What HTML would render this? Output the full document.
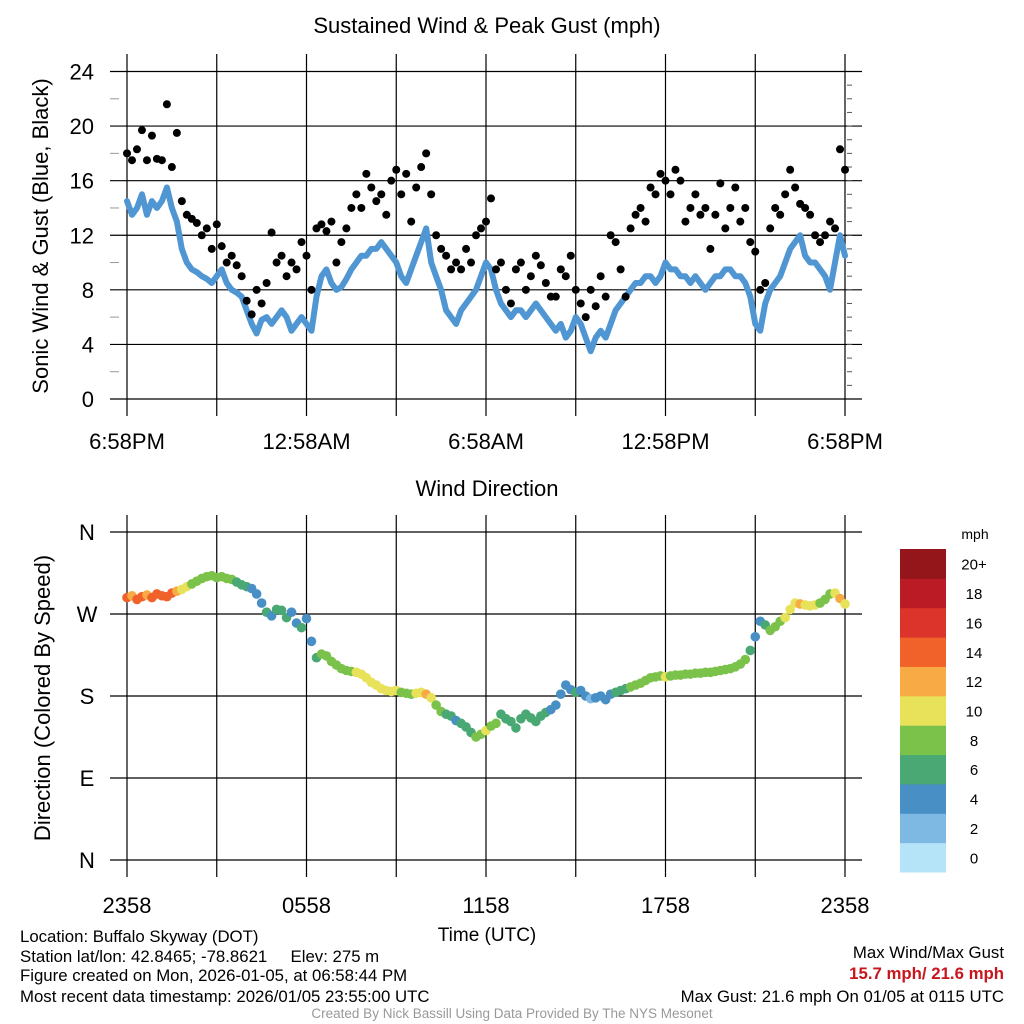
<!DOCTYPE html>
<html><head><meta charset="utf-8"><style>
body{margin:0;background:#fff;}
svg{display:block;font-family:"Liberation Sans",Arial,sans-serif;}
</style></head><body>
<svg id="chart" width="1024" height="1024" viewBox="0 0 1024 1024">
<text x="487" y="33" font-size="22" text-anchor="middle">Sustained Wind &amp; Peak Gust (mph)</text>
<text x="487" y="496" font-size="22" text-anchor="middle">Wind Direction</text>
<text transform="translate(48,236) rotate(-90)" font-size="22" text-anchor="middle">Sonic Wind &amp; Gust (Blue, Black)</text>
<text transform="translate(50,698) rotate(-90)" font-size="22" text-anchor="middle">Direction (Colored By Speed)</text>
<text x="487" y="941" font-size="19" text-anchor="middle">Time (UTC)</text>
<g id="topplot"></g>
<g id="botplot"></g>
<g id="cbar"></g>
<g font-size="16.8">
<text x="20" y="942">Location: Buffalo Skyway (DOT)</text>
<text x="20" y="962">Station lat/lon: 42.8465; -78.8621&#160;&#160;&#160;&#160;&#160;Elev: 275 m</text>
<text x="20" y="981">Figure created on Mon, 2026-01-05, at 06:58:44 PM</text>
<text x="20" y="1002">Most recent data timestamp: 2026/01/05 23:55:00 UTC</text>
</g>
<g font-size="16.8" text-anchor="end">
<text x="1004" y="958">Max Wind/Max Gust</text>
<text x="1004" y="979" fill="#c8161d" font-weight="bold">15.7 mph/ 21.6 mph</text>
<text x="1004" y="1002">Max Gust: 21.6 mph On 01/05 at 0115 UTC</text>
</g>
<text x="512" y="1018" font-size="13.5" fill="#999" text-anchor="middle">Created By Nick Bassill Using Data Provided By The NYS Mesonet</text>
</svg>
<script>
const topTicks=[0,4,8,12,16,20,24];
const topXLabels=["6:58PM","12:58AM","6:58AM","12:58PM","6:58PM"];
const botXLabels=["2358","0558","1158","1758","2358"];
const dirLabels=["N","E","S","W","N"];
const cbLabels=["0","2","4","6","8","10","12","14","16","18","20+"];
const cbColors=["#b5e3f8","#7db9e3","#488fc6","#49a874","#7bc24a","#e8e25a","#f8aa44","#f1622b","#dc342a","#bb1b25","#94161b"];
const sustained=[14.5,13.5,14,15,13.5,14.5,14,14.5,15.5,14,13,
11,10,9.5,9.3,9,8.8,8.5,9,9.5,8.5,
8,7.8,7.5,6.5,5.5,4.8,5.8,6,5.5,6,
6.5,6,5,5.5,6,5.5,5,7.5,9,9.5,
8.5,8,8.2,8.8,9.5,10,10.5,10.5,11,11,
11.5,11,10.5,10,9,8.5,9.5,10.5,11.5,12.5,
10,9,8,6.5,6,5.5,6.5,7,7.5,8,
9,10,9.5,8,7,6.5,6,6.5,6.5,6,
6.5,7,6.5,6,5.5,5,5.5,4.5,5,6,
5.5,4.5,3.5,4.5,5,4.5,5.5,6.5,7,7.5,
8,8.5,8.5,9,9,8.5,9,10,9.5,9.5,
9,9,8.5,9,8.5,8,8.5,9,9,9.5,
9.5,9,9,8.5,7.5,5.5,5,7,8,8.5,
9,10,11,11.5,12,10.5,10,10,9.5,9,
8,10,12,10.5];
const gusts=[18,17.5,18.3,19.7,17.5,19.3,17.6,17.5,21.6,17,19.5,
14.5,13.5,13.2,12.9,12,12.5,11,12.8,11.2,10,
10.5,9.8,9,7.2,6.2,8,7,8.5,12.2,10,
10.5,9,10,9.5,11.5,10.5,8,12.5,12.8,12.3,
13,10,11.5,12.5,14,15,14,16.5,15.5,14.5,
15,13.5,16,16.8,15,16.5,13,15.5,17,18,
15,12,11,10.5,9.5,10,9.5,11,10,12,
12.5,13,14.7,9.5,10,8,7,9.5,10,8,
9,10.5,9.8,8.5,7.5,7.5,9.5,9,10.5,8,
7,6,8,6.8,9,7.5,12,11.5,9.5,7.5,
12.5,13.5,14,13,15.5,15,16.5,16,15,16.8,
16,13,14,15,13.5,14,11,13.5,15.8,12.5,
14,15.5,13,14,11.5,10.8,8,8.5,12.5,14,
13.5,15,16.8,15.5,14.3,14,13.5,12,11.5,12,
13,12.5,18.3,16.8];
const direction=[288,290,286,289,291,288,292,290,289,293,295,
297,300,303,306,309,311,312,310,311,309,
308,305,302,300,298,292,282,272,268,275,
274,266,272,260,255,265,240,222,226,224,
218,214,210,208,207,206,204,200,195,192,
188,186,185,186,184,183,182,183,184,182,
178,170,163,160,158,153,150,146,140,135,
138,142,147,150,160,155,152,145,155,160,
156,152,158,162,165,170,182,192,187,184,
186,180,177,178,180,176,182,184,186,188,
190,192,194,197,200,201,202,201,202,203,
203,204,204,205,205,206,206,207,208,209,
210,212,215,220,230,245,262,258,252,256,
262,266,275,282,281,280,279,280,282,286,
292,293,287,281];

const NS="http://www.w3.org/2000/svg";
function mk(p,tag,attrs){const e=document.createElementNS(NS,tag);for(const k in attrs)e.setAttribute(k,attrs[k]);p.appendChild(e);return e;}
const X0=127,X1=845;
const xi=i=>X0+i*(X1-X0)/(sustained.length-1);
const ys=v=>399-v*(327.5/24);
const yd=d=>860-d*(328/360);
const gTop=document.getElementById('topplot'),gBot=document.getElementById('botplot'),gCb=document.getElementById('cbar');

for(let k=0;k<9;k++){const x=X0+k*(X1-X0)/8;
 const l=mk(gTop,'line',{x1:x,x2:x,y1:54,y2:416,stroke:'#000','stroke-width':1.2});
 
 const l2=mk(gBot,'line',{x1:x,x2:x,y1:515,y2:877,stroke:'#000','stroke-width':1.2});
 
}
for(let k=0;k<5;k++){const x=X0+k*(X1-X0)/4;
 const t=mk(gTop,'text',{x:x,y:449,'font-size':22,'text-anchor':'middle'});t.textContent=topXLabels[k];
 
 const t2=mk(gBot,'text',{x:x,y:913,'font-size':22,'text-anchor':'middle'});t2.textContent=botXLabels[k];
 
}
topTicks.forEach(v=>{const y=ys(v);
 const l=mk(gTop,'line',{x1:110,x2:862,y1:y,y2:y,stroke:'#000','stroke-width':1.2});
 
 const t=mk(gTop,'text',{x:94,y:y+8,'font-size':22,'text-anchor':'end'});t.textContent=v;
 
});
for(let v=2;v<24;v+=4){const y=ys(v);const m=mk(gTop,'line',{x1:110,x2:119,y1:y,y2:y,stroke:'#999','stroke-width':1});
 }
for(let v=1;v<24;v++){const y=ys(v);const m=mk(gTop,'line',{x1:847,x2:852,y1:y,y2:y,stroke:'#555','stroke-width':1});
 }
let d='';sustained.forEach((v,i)=>{d+=(i?'L':'M')+xi(i).toFixed(1)+','+ys(v).toFixed(1);});
const pl=mk(gTop,'path',{d:d,fill:'none',stroke:'#4f96d2','stroke-width':6,'stroke-linejoin':'round','stroke-linecap':'round'});

gusts.forEach((v,i)=>{const c=mk(gTop,'circle',{cx:xi(i),cy:ys(v),r:4,fill:'#000'});
 });

dirLabels.forEach((s,k)=>{const y=yd(k*90);
 const l=mk(gBot,'line',{x1:110,x2:862,y1:y,y2:y,stroke:'#000','stroke-width':1.2});
 
 const t=mk(gBot,'text',{x:87,y:y+8,'font-size':22,'text-anchor':'middle'});t.textContent=s;
 
});
const colorFor=v=>cbColors[Math.min(10,Math.max(0,Math.floor(v/2)))];
direction.forEach((v,i)=>{const c=mk(gBot,'circle',{cx:xi(i),cy:yd(v),r:4.8,fill:colorFor(sustained[i])});
 });

const ch=(872-549)/cbColors.length;
cbColors.forEach((c,k)=>{const y=872-(k+1)*ch;
 const r=mk(gCb,'rect',{x:900,y:y,width:46,height:ch+0.5,fill:c});
 
 const t=mk(gCb,'text',{x:974,y:y+ch/2+6,'font-size':15,'text-anchor':'middle'});t.textContent=cbLabels[k];
 
});
const u=mk(gCb,'text',{x:975,y:539,'font-size':14,'text-anchor':'middle'});u.textContent='mph';

</script>
</body></html>
